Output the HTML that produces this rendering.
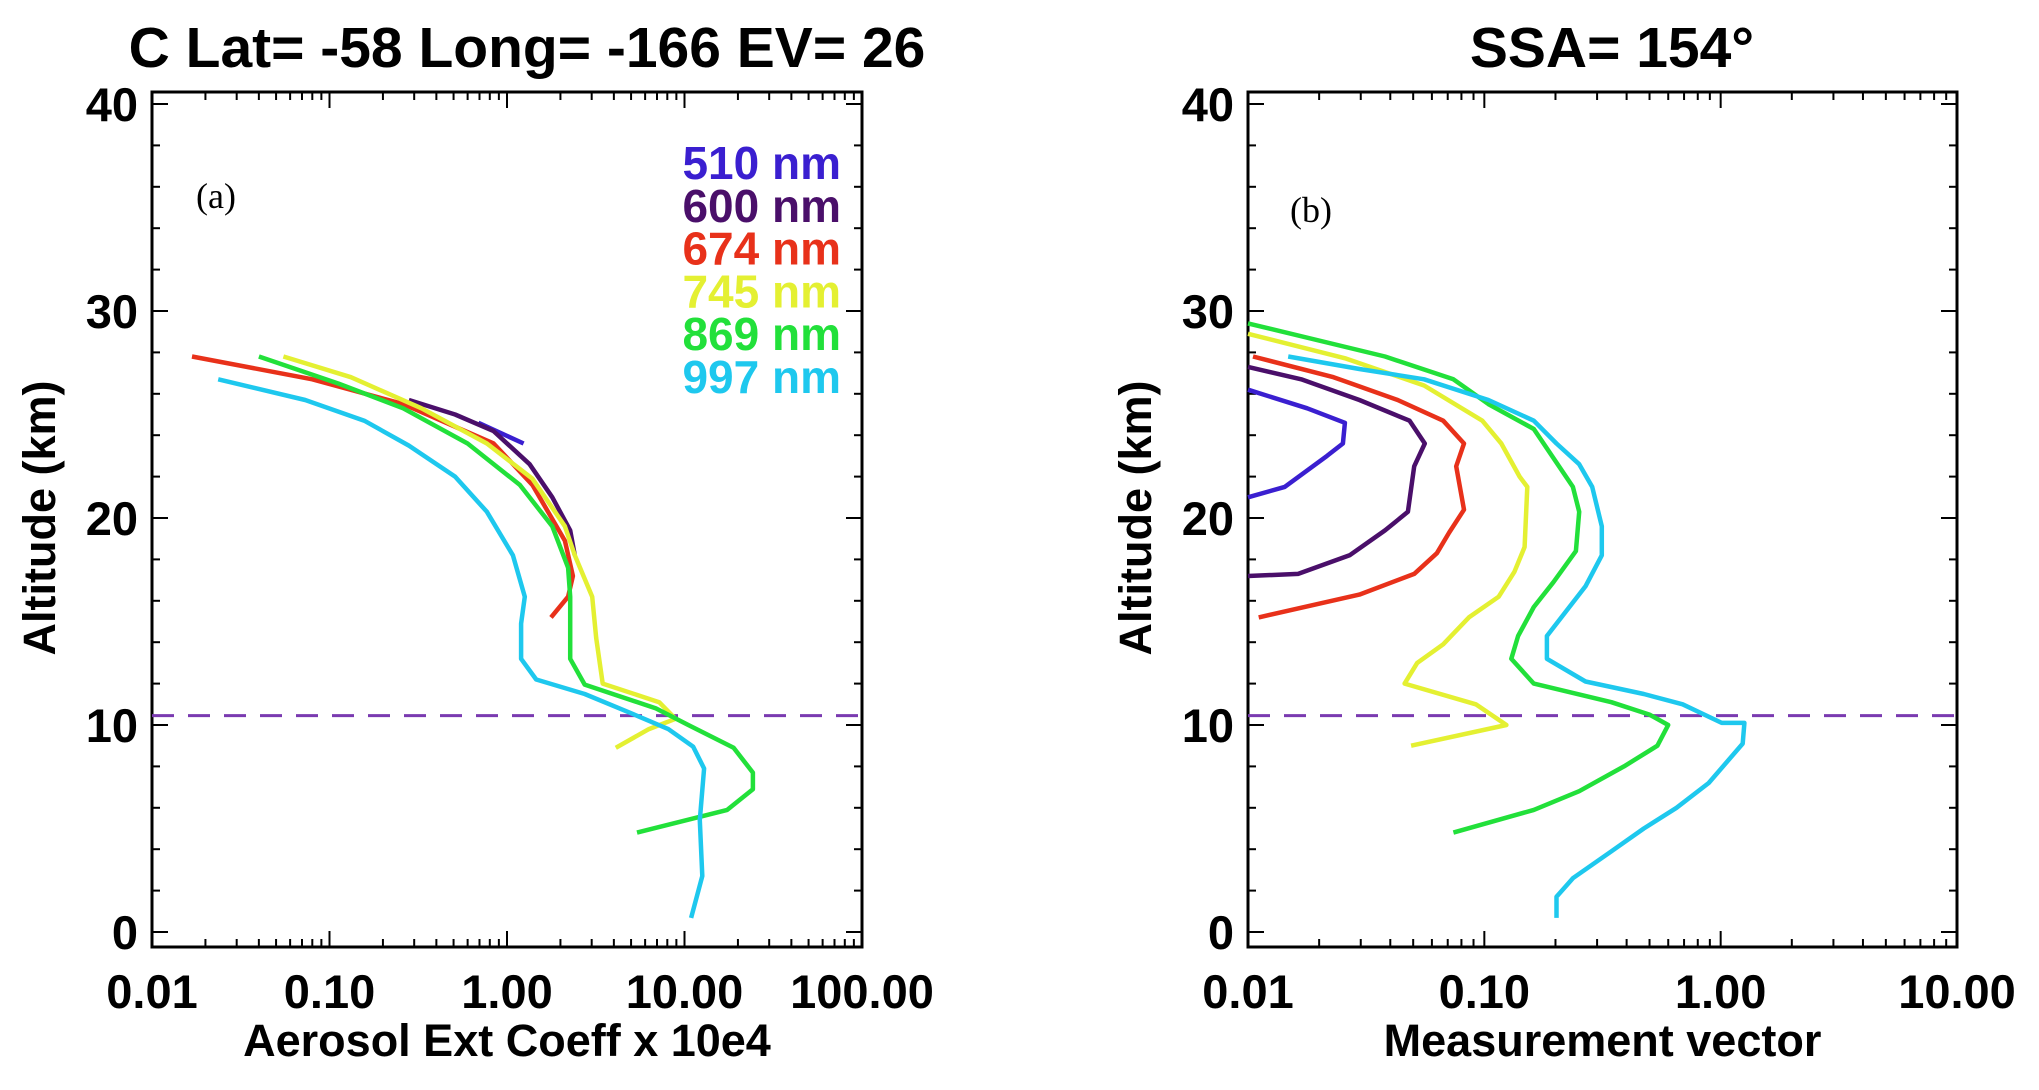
<!DOCTYPE html>
<html><head><meta charset="utf-8"><style>
html,body{margin:0;padding:0;background:#fff;}
svg text{font-family:"Liberation Sans",Arial,sans-serif;font-weight:bold;fill:#000;}
</style></head><body>
<svg id="chart" width="2039" height="1085" xmlns="http://www.w3.org/2000/svg"></svg>
<script>
const wavelengths = ["510 nm","600 nm","674 nm","745 nm","869 nm","997 nm"];
const colors = ["#3a1fd0","#4a0f6a","#e8311a","#e4f032","#22e03a","#1ec8ee"];
const tropopause = 10.45;
// Panel A: extinction (x) and altitude (y)
const aX510 = [0.69,1.24];
const aY510 = [24.6,23.6];
const aX600 = [0.28,0.51,0.84,1.34,1.80,2.27,2.41];
const aY600 = [25.7,25.0,24.2,22.6,21.0,19.4,18.2];
const aX674 = [0.0168,0.080,0.26,0.84,1.39,2.12,2.35,2.21,1.77];
const aY674 = [27.8,26.7,25.5,23.6,21.6,18.9,17.2,16.2,15.2];
const aX745 = [0.055,0.132,0.33,0.77,1.39,2.12,2.41,3.02,3.18,3.46,7.2,8.9,6.3,4.1];
const aY745 = [27.8,26.8,25.3,23.6,21.9,19.6,18.2,16.2,14.2,12.0,11.1,10.3,9.8,8.9];
const aX869 = [0.040,0.112,0.26,0.60,1.18,1.80,2.21,2.27,2.27,2.74,6.9,10.5,18.9,24.3,24.3,17.4,5.4];
const aY869 = [27.8,26.5,25.3,23.6,21.6,19.6,17.6,16.2,13.2,11.95,10.8,10.0,8.9,7.7,6.9,5.9,4.8];
const aX997 = [0.0236,0.073,0.157,0.28,0.51,0.77,1.08,1.26,1.20,1.20,1.46,2.74,4.9,8.1,11.2,12.9,12.2,12.6,10.9];
const aY997 = [26.7,25.7,24.7,23.5,22.0,20.3,18.2,16.2,14.9,13.2,12.2,11.5,10.6,9.8,8.95,7.9,5.4,2.7,0.68];
// Panel B: measurement vector
const bX510 = [0.0100,0.0178,0.0257,0.0252,0.0216,0.0143,0.0100];
const bY510 = [26.2,25.3,24.6,23.6,23.0,21.5,21.0];
const bX600 = [0.01,0.0168,0.0296,0.0483,0.056,0.0505,0.0475,0.038,0.0269,0.0163,0.01];
const bY600 = [27.3,26.7,25.7,24.7,23.6,22.5,20.3,19.4,18.2,17.3,17.2];
const bX674 = [0.0105,0.023,0.043,0.067,0.082,0.076,0.082,0.071,0.063,0.0505,0.0296,0.0111];
const bY674 = [27.8,26.8,25.7,24.7,23.6,22.5,20.4,19.3,18.3,17.3,16.3,15.2];
const bX745 = [0.01,0.026,0.0556,0.098,0.118,0.141,0.152,0.148,0.134,0.115,0.086,0.067,0.052,0.046,0.092,0.124,0.049];
const bY745 = [28.9,27.7,26.4,24.7,23.6,22.0,21.5,18.6,17.4,16.2,15.2,13.9,13.0,12.0,11.0,10.0,9.0];
const bX869 = [0.01,0.038,0.074,0.104,0.162,0.237,0.252,0.244,0.196,0.162,0.139,0.130,0.162,0.345,0.50,0.60,0.54,0.39,0.252,0.162,0.074];
const bY869 = [29.4,27.8,26.7,25.5,24.3,21.5,20.3,18.4,16.9,15.7,14.3,13.2,12.0,11.1,10.5,10.0,9.0,8.0,6.8,5.9,4.8];
const bX997 = [0.0148,0.0296,0.0556,0.104,0.162,0.202,0.252,0.286,0.314,0.314,0.268,0.222,0.184,0.184,0.268,0.473,0.69,1.01,1.26,1.24,0.89,0.65,0.473,0.345,0.237,0.202,0.202];
const bY997 = [27.8,27.2,26.7,25.7,24.7,23.6,22.6,21.5,19.6,18.2,16.7,15.5,14.3,13.2,12.1,11.5,11.0,10.1,10.1,9.1,7.2,6.0,5.0,3.9,2.6,1.7,0.68];
const yTicks = [0,10,20,30,40];
const aXTicks = ["0.01","0.10","1.00","10.00","100.00"];
const bXTicks = ["0.01","0.10","1.00","10.00"];

const NS="http://www.w3.org/2000/svg";
const svg=document.getElementById('chart');
function mk(tag,attrs,parent){const e=document.createElementNS(NS,tag);for(const k in attrs)e.setAttribute(k,attrs[k]);(parent||svg).appendChild(e);return e;}
const Y0=932, Y40=104, TOP=92, BOT=947;
function yScale(a){return Y0+(Y40-Y0)*a/40;}

function panel(key,x0,x1,decMin,decMax,xt,title,titleX,xlabel,letter,letterX,letterY,xs,ys,showLegend){
  const g=mk('g',{});
  
  
  const xScale=v=>x0+(Math.log10(v)-decMin)/(decMax-decMin)*(x1-x0);
  const t=mk('text',{x:titleX,y:67,'font-size':57,'text-anchor':'middle'},g);t.textContent=title;
  
  
  const box=mk('rect',{x:x0,y:TOP,width:x1-x0,height:BOT-TOP,fill:'none',stroke:'#000','stroke-width':3},g);
  
  
  for(let a=0;a<=40;a+=2){
    const y=yScale(a);const L=(a%10===0)?16:8;
    mk('line',{x1:x0,x2:x0+L,y1:y,y2:y,stroke:'#000','stroke-width':2},g);
    mk('line',{x1:x1,x2:x1-L,y1:y,y2:y,stroke:'#000','stroke-width':2},g);
  }
  yTicks.forEach(a=>{const tt=mk('text',{x:x0-14,y:yScale(a)+17,'font-size':47,'text-anchor':'end'},g);tt.textContent=a;
    
    });
  for(let d=decMin;d<decMax;d++){for(let m=1;m<10;m++){const x=xScale(m*Math.pow(10,d));const L=m===1?16:8;
    mk('line',{x1:x,x2:x,y1:BOT,y2:BOT-L,stroke:'#000','stroke-width':2},g);
    mk('line',{x1:x,x2:x,y1:TOP,y2:TOP+L,stroke:'#000','stroke-width':2},g);}}
  xt.forEach((lab,i)=>{const x=xScale(Math.pow(10,decMin+i));const tt=mk('text',{x:x,y:1008,'font-size':47,'text-anchor':'middle'},g);tt.textContent=lab;
    
    });
  const xl=mk('text',{x:(x0+x1)/2,y:1056,'font-size':45,'text-anchor':'middle'},g);xl.textContent=xlabel;
  
  
  const yl=mk('text',{x:0,y:0,'font-size':45,'text-anchor':'middle',transform:`translate(${x0-97},${yScale(20)}) rotate(-90)`},g);yl.textContent='Altitude (km)';
  
  
  const lt=mk('text',{x:letterX,y:letterY,'font-size':36,style:'font-family:"Liberation Serif",serif;font-weight:normal'},g);lt.textContent=letter;
  
  
  const dl=mk('line',{x1:x0,x2:x1,y1:yScale(tropopause),y2:yScale(tropopause),stroke:'#7a3ab0','stroke-width':3,'stroke-dasharray':'22,14'},g);
  
  
  xs.forEach((arr,i)=>{
    const pts=arr.map((v,j)=>xScale(v).toFixed(1)+','+yScale(ys[i][j]).toFixed(1)).join(' ');
    const p=mk('polyline',{points:pts,fill:'none',stroke:colors[i],'stroke-width':4.5,'stroke-linejoin':'round'},g);
    
    
  });
  if(showLegend){
    wavelengths.forEach((w,i)=>{const tt=mk('text',{x:841,y:179+i*42.8,'font-size':46,'text-anchor':'end',style:'fill:'+colors[i]},g);tt.textContent=w;
      
      });
  }
}
panel('a',152,862,-2,2,aXTicks,'C Lat= -58 Long= -166 EV= 26',527,'Aerosol Ext Coeff x 10e4','(a)',196,208,
  [aX510,aX600,aX674,aX745,aX869,aX997],[aY510,aY600,aY674,aY745,aY869,aY997],true);
panel('b',1248,1957,-2,1,bXTicks,'SSA= 154°',1612,'Measurement vector','(b)',1290,222,
  [bX510,bX600,bX674,bX745,bX869,bX997],[bY510,bY600,bY674,bY745,bY869,bY997],false);
</script>
</body></html>
